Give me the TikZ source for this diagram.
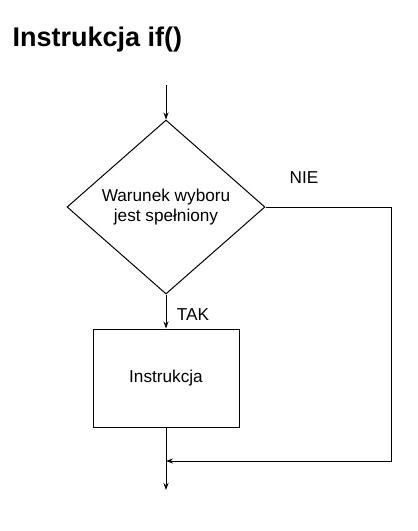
\documentclass[tikz,border=0pt]{standalone}
\usepackage{fontspec}
\setmainfont{Liberation Sans}
\usetikzlibrary{shapes.geometric, arrows.meta, positioning}

\begin{document}
\begin{tikzpicture}[x=1pt,y=-1pt,
    line/.style={line width=1pt},
    arrow/.style={line, -{Stealth[length=7pt,width=5pt,inset=2.5pt]}},
    txt/.style={font=\fontsize{17.2}{20}\selectfont}]
\useasboundingbox (0,0) rectangle (418,531);
    \node[anchor=base west, font=\fontsize{27}{30}\selectfont\bfseries] (title) at (9,46) {Instrukcja if()};
    \coordinate (start) at (166,85);
    \node[diamond, draw, line, inner sep=0pt, aspect=1.14, minimum width=198pt, minimum height=174pt, txt, align=center] (cond) at (166,207) {Warunek wyboru\\jest spełniony};
    \node[rectangle, draw, line, minimum width=146pt, minimum height=98pt, txt] (instr) at (166,378) {Instrukcja};
    \coordinate (join) at (166,461);
    \coordinate (nieR) at (391,461);
    \coordinate (end) at (166,490);
    \draw[arrow] (start) -- (cond.north);
    \draw[arrow] (cond.south) -- (instr.north);
    \draw[arrow] (cond.east) -| (nieR) -- (join);
    \draw[arrow] (instr.south) -- (end);
    \node[txt] (tak) at (193,315) {TAK};
    \node[txt] (nie) at (304,178) {NIE};
\end{tikzpicture}
\end{document}
